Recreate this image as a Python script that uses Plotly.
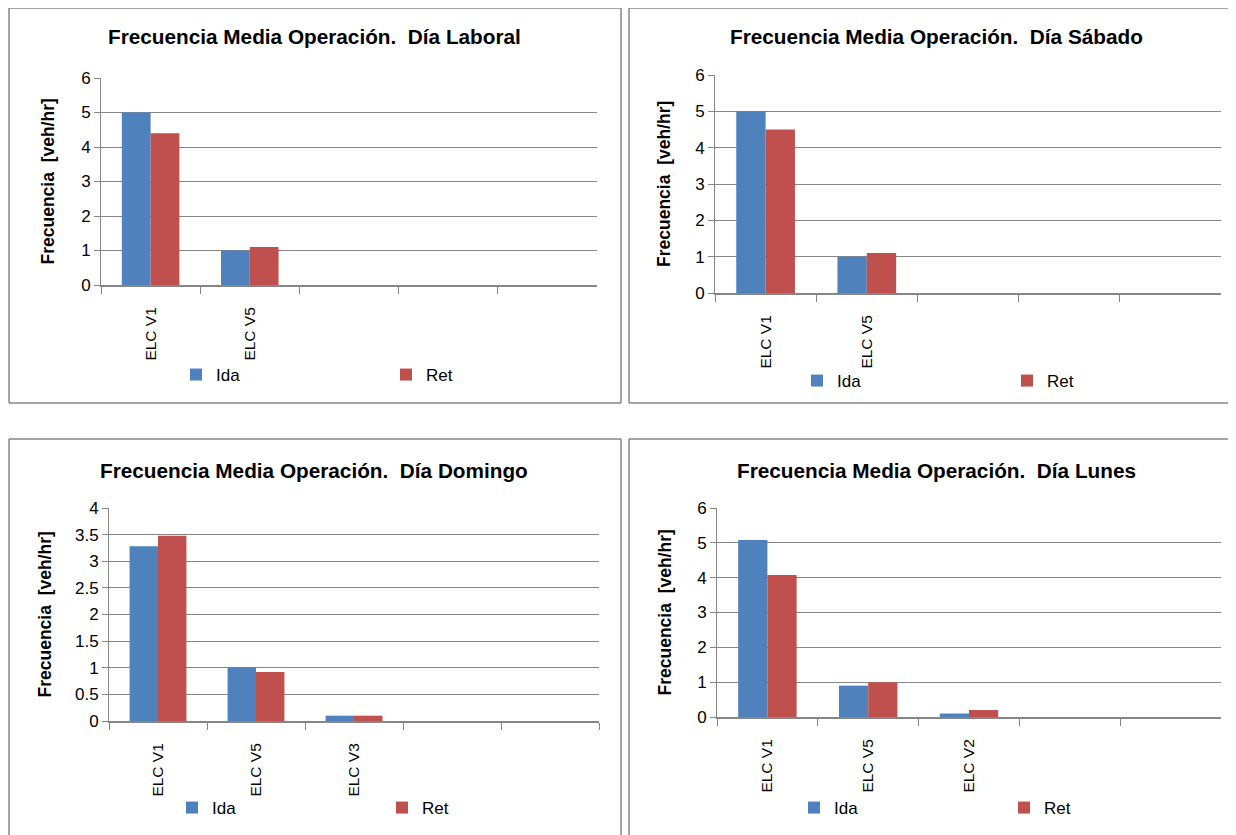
import plotly.graph_objects as go

# datos
cat_laboral = ["ELC V1", "ELC V5", " ", "  ", "   "]
ida_laboral = [5.0, 1.0, None, None, None]
ret_laboral = [4.4, 1.1, None, None, None]

cat_sabado = ["ELC V1", "ELC V5", " ", "  ", "   "]
ida_sabado = [5.0, 1.0, None, None, None]
ret_sabado = [4.5, 1.1, None, None, None]

cat_domingo = ["ELC V1", "ELC V5", "ELC V3", " ", "  "]
ida_domingo = [3.28, 1.0, 0.1, None, None]
ret_domingo = [3.48, 0.92, 0.1, None, None]

cat_lunes = ["ELC V1", "ELC V5", "ELC V2", " ", "  "]
ida_lunes = [5.08, 0.9, 0.1, None, None]
ret_lunes = [4.08, 1.0, 0.2, None, None]

titulos = ["Frecuencia Media Operación.  Día Laboral",
           "Frecuencia Media Operación.  Día Sábado",
           "Frecuencia Media Operación.  Día Domingo",
           "Frecuencia Media Operación.  Día Lunes"]
ymax = [6, 6, 4, 6]
ydtick = [1, 1, 0.5, 1]

# la pagina agrega 8px de margen arriba/izquierda
OX, OY = 8, 8
W, H = 1236 - OX, 835 - OY
FONT = "Liberation Sans, Arial"
AZUL = "#4F81BD"
ROJO = "#C0504D"
GRIS = "#868686"

def px(x):
    return (x - OX) / W

def py(y):
    return 1 - (y - OY) / H

# posiciones (pixeles de la imagen): area de grafico, caja, titulo, titulo eje y, leyenda
paneles = [
    dict(plot=(101, 597, 78, 285), caja=(9, 621, 8, 403), lados="ltrb", tit=(314, 37), ytit=47, ley=(199, 375)),
    dict(plot=(715, 1221, 75, 293), caja=(629, 1236, 8, 403), lados="ltb", tit=(936, 37), ytit=664, ley=(820, 381)),
    dict(plot=(109, 599, 508, 721), caja=(9, 621, 439, 835), lados="ltr", tit=(314, 470), ytit=44, ley=(195, 808)),
    dict(plot=(717, 1221, 508, 717), caja=(629, 1236, 439, 835), lados="lt", tit=(936, 470), ytit=664, ley=(817, 808)),
]

datos = [(cat_laboral, ida_laboral, ret_laboral),
         (cat_sabado, ida_sabado, ret_sabado),
         (cat_domingo, ida_domingo, ret_domingo),
         (cat_lunes, ida_lunes, ret_lunes)]

fig = go.Figure()
shapes = []
annotations = []
layout = {}

for i, (p, (cats, ida, ret)) in enumerate(zip(paneles, datos)):
    n = "" if i == 0 else str(i + 1)
    xa, ya = "x" + n, "y" + n
    leg = "legend" + n
    fig.add_trace(go.Bar(x=cats, y=ida, name="Ida", marker_color=AZUL, xaxis=xa, yaxis=ya,
                         legend=leg, marker_line_width=0))
    fig.add_trace(go.Bar(x=cats, y=ret, name="Ret", marker_color=ROJO, xaxis=xa, yaxis=ya,
                         legend=leg, marker_line_width=0))

    x0, x1, y0, y1 = p["plot"]
    layout["xaxis" + n] = dict(domain=[px(x0), min(px(x1), 1)], anchor=ya, type="category",
                               categoryorder="array", categoryarray=cats, range=[-0.5, 4.5],
                               tickson="boundaries", ticks="outside", ticklen=7, tickcolor=GRIS,
                               showline=True, linecolor=GRIS, linewidth=2, showgrid=False,
                               tickangle=-90, ticklabelstandoff=14, automargin=False,
                               tickfont=dict(family=FONT, size=15.5, color="black"))
    layout["yaxis" + n] = dict(domain=[py(y1), py(y0)], anchor=xa, range=[0, ymax[i]],
                               dtick=ydtick[i], showgrid=True, gridcolor=GRIS, gridwidth=1,
                               showline=True, linecolor=GRIS, ticks="outside", ticklen=6,
                               tickcolor=GRIS, zeroline=False, automargin=False,
                               tickfont=dict(family=FONT, size=17, color="black"))
    lx, ly = p["ley"]
    layout[leg] = dict(orientation="h", x=px(lx - 23), y=py(ly), xanchor="left", yanchor="middle",
                       entrywidth=165, entrywidthmode="pixels", bgcolor="rgba(0,0,0,0)",
                       font=dict(family=FONT, size=17, color="black"), traceorder="normal")

    bx0, bx1, by0, by1 = p["caja"]
    bordes = {"l": (bx0, by0, bx0, by1), "t": (bx0, by0, bx1, by0),
              "r": (bx1, by0, bx1, by1), "b": (bx0, by1, bx1, by1)}
    for lado in p["lados"]:
        a, b, c, d = bordes[lado]
        shapes.append(dict(type="line", xref="paper", yref="paper", x0=px(a), y0=max(py(b), 0),
                           x1=min(px(c), 1), y1=max(py(d), 0), line=dict(color=GRIS, width=1.5)))
    tx, ty = p["tit"]
    annotations.append(dict(text="<b>" + titulos[i] + "</b>", x=px(tx), y=py(ty), xref="paper",
                            yref="paper", showarrow=False, xanchor="center", yanchor="middle",
                            font=dict(family=FONT, size=20.75, color="black")))
    annotations.append(dict(text="<b>Frecuencia  [veh/hr]</b>", x=px(p["ytit"]), y=py((y0 + y1) / 2),
                            xref="paper", yref="paper", showarrow=False, textangle=-90,
                            xanchor="center", yanchor="middle",
                            font=dict(family=FONT, size=17.5, color="black")))

fig.update_layout(**layout)
fig.update_layout(width=W, height=H, margin=dict(l=0, r=0, t=0, b=0, autoexpand=False),
                  paper_bgcolor="white", plot_bgcolor="white",
                  barmode="group", bargap=0.42, bargroupgap=0,
                  shapes=shapes, annotations=annotations, showlegend=True)

fig.write_html("out.html")
